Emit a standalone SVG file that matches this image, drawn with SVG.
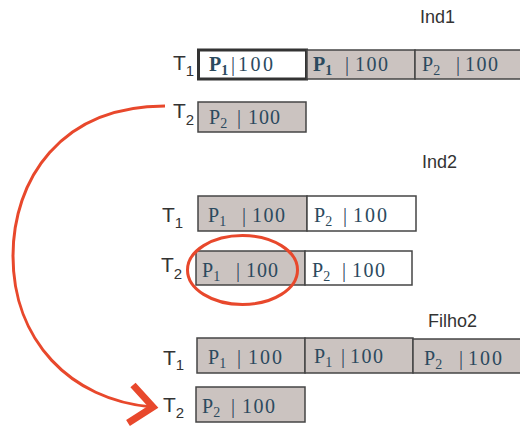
<svg xmlns="http://www.w3.org/2000/svg" width="520" height="428" viewBox="0 0 520 428">
  <style>
    .cell { fill: #cbc3c0; stroke: #454545; stroke-width: 1.5; }
    .blank { fill: #ffffff; stroke: #454545; stroke-width: 1.5; }
    .sel { fill: #ffffff; stroke: #333333; stroke-width: 3; }
    .v { font-family: "Liberation Serif", "Times New Roman", serif; font-size: 20px; fill: #2b4a5e; }
    .b { font-weight: bold; }
    .vs { font-size: 14px; }
    .t { font-family: "Liberation Sans", Arial, sans-serif; font-size: 21px; fill: #333333; }
    .ts { font-size: 15px; }
    .h { font-family: "Liberation Sans", Arial, sans-serif; font-size: 18px; fill: #333333; }
    .red { fill: none; stroke: #e8482c; }
  </style>

  <!-- Ind1 -->
  <g id="ind1">
    <text class="h" x="420" y="23">Ind1</text>
    <text class="t" x="173" y="70">T<tspan class="ts" dy="6">1</tspan></text>
    <text class="t" x="173" y="118">T<tspan class="ts" dy="7">2</tspan></text>
  </g>
  <g id="ind1-t1-a">
    <rect class="sel" x="198.5" y="50" width="108" height="29"/>
    <text class="v b" x="209" y="71">P<tspan class="vs" dy="4">1</tspan></text>
    <text class="v" x="231" y="71">|</text>
    <text class="v" x="238" y="71" textLength="35">100</text>
  </g>
  <g id="ind1-t1-b">
    <rect class="cell" x="307" y="50" width="108" height="29"/>
    <text class="v b" x="313" y="71">P<tspan class="vs" dy="4">1</tspan></text>
    <text class="v" x="345" y="71">|</text>
    <text class="v" x="355" y="71" textLength="33">100</text>
  </g>
  <g id="ind1-t1-c">
    <rect class="cell" x="415" y="50" width="110" height="29"/>
    <text class="v" x="422" y="71">P<tspan class="vs" dy="4">2</tspan></text>
    <text class="v" x="456" y="71">|</text>
    <text class="v" x="465" y="71" textLength="33">100</text>
  </g>
  <g id="ind1-t2-a">
    <rect class="cell" x="198" y="102" width="108" height="30"/>
    <text class="v" x="209" y="124">P<tspan class="vs" dy="4">2</tspan></text>
    <text class="v" x="237" y="124">|</text>
    <text class="v" x="248" y="124" textLength="32">100</text>
  </g>

  <!-- Ind2 -->
  <g id="ind2">
    <text class="h" x="422" y="168">Ind2</text>
    <text class="t" x="162" y="222">T<tspan class="ts" dy="6">1</tspan></text>
    <text class="t" x="161" y="272">T<tspan class="ts" dy="7">2</tspan></text>
  </g>
  <g id="ind2-t1-a">
    <rect class="cell" x="198" y="196" width="109" height="35"/>
    <text class="v" x="208" y="222">P<tspan class="vs" dy="4">1</tspan></text>
    <text class="v" x="242" y="222">|</text>
    <text class="v" x="252" y="222" textLength="33">100</text>
  </g>
  <g id="ind2-t1-b">
    <rect class="blank" x="307" y="196" width="109" height="35"/>
    <text class="v" x="314" y="222">P<tspan class="vs" dy="4">2</tspan></text>
    <text class="v" x="343" y="222">|</text>
    <text class="v" x="353" y="222" textLength="34">100</text>
  </g>
  <g id="ind2-t2-a">
    <rect class="cell" x="196" y="251" width="109" height="34"/>
    <text class="v" x="202" y="277">P<tspan class="vs" dy="4">1</tspan></text>
    <text class="v" x="236" y="277">|</text>
    <text class="v" x="246" y="277" textLength="32">100</text>
  </g>
  <g id="ind2-t2-b">
    <rect class="blank" x="305" y="251" width="107" height="34"/>
    <text class="v" x="312" y="277">P<tspan class="vs" dy="4">2</tspan></text>
    <text class="v" x="342" y="277">|</text>
    <text class="v" x="352" y="277" textLength="33">100</text>
  </g>

  <!-- Filho2 -->
  <g id="filho2">
    <text class="h" x="428" y="327">Filho2</text>
    <text class="t" x="163" y="365">T<tspan class="ts" dy="5">1</tspan></text>
    <text class="t" x="163" y="412">T<tspan class="ts" dy="6">2</tspan></text>
  </g>
  <g id="filho2-t1-a">
    <rect class="cell" x="197" y="338" width="108" height="35"/>
    <text class="v" x="208" y="364">P<tspan class="vs" dy="4">1</tspan></text>
    <text class="v" x="237" y="364">|</text>
    <text class="v" x="248" y="364" textLength="34">100</text>
  </g>
  <g id="filho2-t1-b">
    <rect class="cell" x="305" y="338" width="108" height="35"/>
    <text class="v" x="314" y="363">P<tspan class="vs" dy="4">1</tspan></text>
    <text class="v" x="341" y="363">|</text>
    <text class="v" x="350" y="363" textLength="33">100</text>
  </g>
  <g id="filho2-t1-c">
    <rect class="cell" x="413" y="339" width="112" height="34"/>
    <text class="v" x="424" y="365">P<tspan class="vs" dy="4">2</tspan></text>
    <text class="v" x="459" y="365">|</text>
    <text class="v" x="468" y="365" textLength="34">100</text>
  </g>
  <g id="filho2-t2-a">
    <rect class="cell" x="196" y="387" width="109" height="35"/>
    <text class="v" x="202" y="413">P<tspan class="vs" dy="4">2</tspan></text>
    <text class="v" x="231" y="413">|</text>
    <text class="v" x="242" y="413" textLength="33">100</text>
  </g>

  <!-- highlight and transfer arrow -->
  <g id="connectors">
    <ellipse class="red" cx="242.5" cy="270" rx="55" ry="34.5" stroke-width="3"/>
    <path class="red" d="M165,106 C60,106 13,180 13,256 C13,340 70,400 152,407" stroke-width="3"/>
    <polyline class="red" points="133,385 153,407 128,423" stroke-width="7" stroke-linejoin="miter"/>
  </g>
</svg>
